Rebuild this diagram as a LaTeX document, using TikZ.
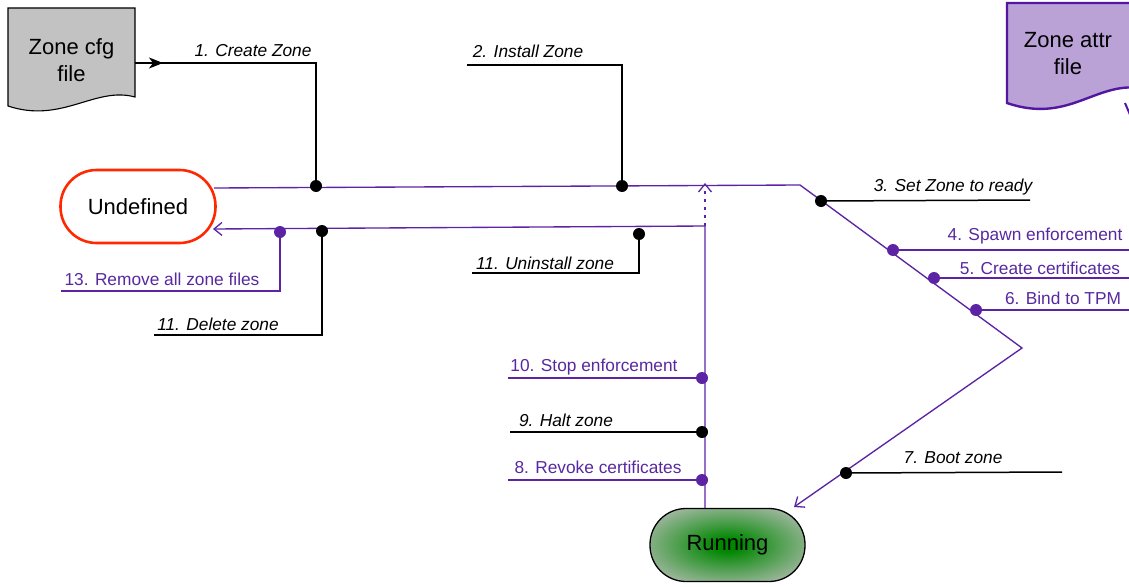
\documentclass[tikz,border=0pt]{standalone}
\usepackage{fontspec}
\setmainfont{Liberation Sans}
\usetikzlibrary{arrows.meta,calc}
\definecolor{vio}{RGB}{92,36,165}
\definecolor{viotext}{RGB}{88,40,160}
\definecolor{attrline}{RGB}{82,22,160}
\definecolor{attrfill}{RGB}{186,162,214}
\definecolor{cfgfill}{RGB}{194,194,194}
\definecolor{undefred}{RGB}{255,40,0}
\definecolor{rungreen}{RGB}{0,135,0}
\definecolor{runedge}{RGB}{170,186,170}
% green core fading to grey-green at the border of the node
% (a shaded path is fitted to the 50bp square round the centre)
\pgfdeclareradialshading{runshade}{\pgfpoint{0bp}{0bp}}{%
  color(0bp)=(rungreen); color(4bp)=(rungreen);
  color(16bp)=(rungreen!55!runedge);
  color(31bp)=(runedge); color(50bp)=(runedge)}
\begin{document}
\begin{tikzpicture}[x=1pt,y=-1pt,
  blk/.style={black,line width=1.5pt},
  pur/.style={vio,line width=1.35pt},
  barb/.style={-{Straight Barb[length=8pt,width=13pt,line width=1.3pt]}},
  bigtext/.style={font=\fontsize{22}{27}\selectfont,align=center},
  blab/.style={font=\fontsize{17.3}{20}\selectfont\itshape},
  plab/.style={text=viotext,font=\fontsize{17.3}{20}\selectfont},
  state/.style={rounded corners=36pt,minimum width=155pt,minimum height=73pt,
                line width=1.3pt,bigtext}]
\useasboundingbox (0,0) rectangle (1129,586);
\clip (0,0) rectangle (1129,586);

% --- document shapes ---
\draw[black,line width=1.1pt,fill=cfgfill]
  (8,8) -- (135,8) -- (135,97) .. controls (95,86) and (62,124) .. (8,106) -- cycle;
\node[bigtext,minimum width=127pt] (cfg) at (71.5,60) {Zone cfg\\file};
\coordinate (cfgout) at (135,63);

\draw[attrline,line width=2.4pt,fill=attrfill]
  (1007,3) -- (1140,3) -- (1140,88) .. controls (1095,82) and (1068,124) .. (1007,103) -- cycle;
\node[bigtext] (attr) at (1068,54) {Zone attr\\file};
\draw[attrline,line width=2pt] (1125,103) -- (1131,117);

% --- states ---
\node[state,draw=undefred,line width=2.6pt] (undef) at (138,206.5) {Undefined};
\node[state,draw=black,shading=runshade] (run) at (727.5,545) {Running};

% --- junction points ---
\coordinate (u1) at (214,188);
\coordinate (u2) at (213,229);
\coordinate (m1) at (800,185);
\coordinate (m2) at (1022,348);
\coordinate (r2) at (794,507);
\coordinate (r1) at (705,508);
\coordinate (v1) at (705,226);
\coordinate (v2) at (705,183);

\coordinate (d1) at (316,186);
\coordinate (d2) at (622,186);
\coordinate (d3) at (821,201);
\coordinate (d4) at (893,250);
\coordinate (d5) at (934,278);
\coordinate (d6) at (976,310);
\coordinate (d7) at (846,473);
\coordinate (d8) at (702,480);
\coordinate (d9) at (702,432);
\coordinate (d10) at (702,378);
\coordinate (d11) at (639,234);
\coordinate (d12) at (322,231);
\coordinate (d13) at (280,232);

\coordinate (e2) at (467,65);
\coordinate (e3) at (1030,200);
\coordinate (e4) at (1135,250);
\coordinate (e5) at (1135,278);
\coordinate (e6) at (1135,310);
\coordinate (e7) at (1062,472);
\coordinate (e8) at (508,480);
\coordinate (e9) at (510,432);
\coordinate (e10) at (508,378);
\coordinate (e11) at (472,273);
\coordinate (e12) at (154,335);
\coordinate (e13) at (61,291);

% --- transitions ---
\draw[pur,barb] (u1) -- (m1) -- (m2) -- (r2);
\draw[pur,barb] (r1) -- (v1) -- (u2);
\draw[pur,barb,dash pattern=on 3pt off 5pt] (v1) -- (v2);

% --- action annotations ---
\draw[blk] (cfgout) -| (d1);
\draw[blk,-{Stealth[length=14pt,width=11pt,inset=4pt]}] (cfgout) -- ++(28,0);
\draw[blk] (e2) -| (d2);
\draw[blk] (d3) -- (e3);
\draw[pur] (d4) -- (e4);
\draw[pur] (d5) -- (e5);
\draw[pur] (d6) -- (e6);
\draw[blk] (d7) -- (e7);
\draw[pur] (d8) -- (e8);
\draw[blk] (d9) -- (e9);
\draw[pur] (d10) -- (e10);
\draw[blk] (d11) |- (e11);
\draw[blk] (d12) |- (e12);
\draw[pur] (d13) |- (e13);

\foreach \d in {d1,d2,d3,d7,d9,d11,d12} \fill[black] (\d) circle (6pt);
\foreach \d in {d4,d5,d6,d8,d10,d13} \fill[vio] (\d) circle (6pt);

% --- labels ---
\node[blab] (l1) at (253,51) {1. Create Zone};
\node[blab] (l2) at (528,51) {2. Install Zone};
\node[blab] (l3) at (953,187) {3. Set Zone to ready};
\node[plab] (l4) at (1035,236) {4. Spawn enforcement};
\node[plab] (l5) at (1040,268) {5. Create certificates};
\node[plab] (l6) at (1063,298) {6. Bind to TPM};
\node[blab] (l7) at (953,458) {7. Boot zone};
\node[plab] (l8) at (598,467) {8. Revoke certificates};
\node[blab] (l9) at (566,420) {9. Halt zone};
\node[plab] (l10) at (594,367) {10. Stop enforcement};
\node[blab] (l11) at (545,263) {11. Uninstall zone};
\node[blab] (l12) at (218,324) {11. Delete zone};
\node[plab] (l13) at (162,279) {13. Remove all zone files};
\end{tikzpicture}
\end{document}
